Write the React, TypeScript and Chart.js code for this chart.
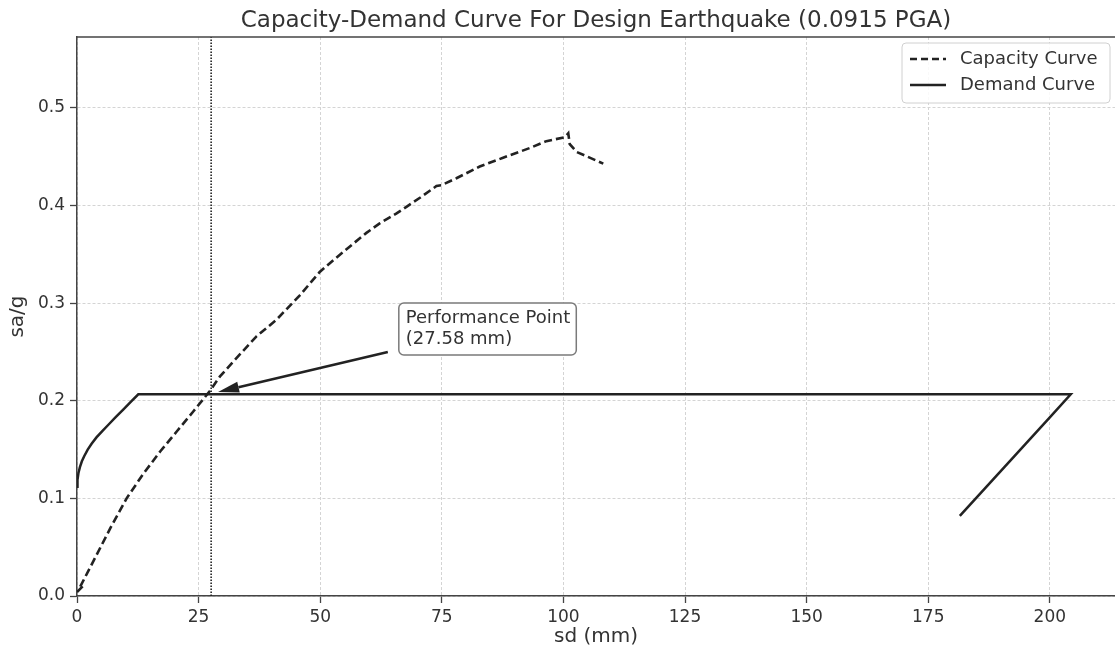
import React, { useEffect, useRef } from 'react';
import { Chart, registerables } from 'chart.js';

Chart.register(...registerables);

// ---- Text ----
const TITLE = 'Capacity-Demand Curve For Design Earthquake (0.0915 PGA)';
const X_LABEL = 'sd (mm)';
const Y_LABEL = 'sa/g';
const LEGEND_LABELS = ['Capacity Curve', 'Demand Curve'];
const ANNOT_LINES = ['Performance Point', '(27.58 mm)'];

// ---- Axes ----
const X_TICKS = [0, 25, 50, 75, 100, 125, 150, 175, 200];
const Y_TICKS = [0, 0.1, 0.2, 0.3, 0.4, 0.5];
const X_MIN = 0;
const X_MAX = 213.4;
const Y_MIN = 0;
const Y_MAX = 0.5727;

// ---- Capacity curve ----
const capacitySd = [0.0, 1.2, 0.6, 3.4, 6.8, 10.2, 13.6, 17.1, 20.5, 23.9, 27.3, 29.4, 32.1, 36.9, 41.0, 45.8, 49.9, 52.7, 56.8, 59.5, 62.3, 65.7, 67.8, 70.5, 73.9, 75.0, 78.0, 82.8, 87.6, 93.1, 96.5, 100.3, 101.0, 101.3, 102.7, 108.2];
const capacitySa = [0.004, 0.010, 0.009, 0.036, 0.069, 0.100, 0.125, 0.148, 0.1685, 0.189, 0.210, 0.225, 0.240, 0.266, 0.283, 0.308, 0.332, 0.344, 0.361, 0.372, 0.382, 0.392, 0.399, 0.408, 0.420, 0.421, 0.428, 0.440, 0.449, 0.459, 0.466, 0.470, 0.474, 0.463, 0.455, 0.443];

// ---- Demand curve ----
const demandSd = [0.0, 0.1, 0.3, 0.6, 1.0, 1.5, 2.2, 3.0, 4.0, 5.2, 6.5, 8.0, 9.5, 11.0, 12.6, 204.3, 200.0, 193.1, 186.9, 181.5];
const demandSa = [0.112, 0.119, 0.126, 0.132, 0.138, 0.1435, 0.150, 0.156, 0.1625, 0.169, 0.1757, 0.1834, 0.191, 0.1986, 0.2066, 0.2066, 0.183, 0.1454, 0.1116, 0.082];

// ---- Performance point ----
const PERFORMANCE_SD = 27.58;
const ANNOT_TEXT_AT = { x: 67.6, y: 0.2797 };
const ARROW_TAIL = { x: 63.9, y: 0.25 };
const ARROW_TIP = { x: 29.0, y: 0.209 };

const FONT = '"DejaVu Sans", "Liberation Sans", sans-serif';
const TEXT = '#333333';
const LINE = '#222222';
const SPINE = '#444444';
const GRID = '#d4d4d4';

const overlayPlugin = {
  id: 'overlay',
  afterDraw(chart: any) {
    const { ctx, chartArea: a, scales } = chart;
    const x = scales.x;
    const y = scales.y;
    ctx.save();

    // top spine
    ctx.strokeStyle = SPINE;
    ctx.lineWidth = 1.5;
    ctx.setLineDash([]);
    ctx.beginPath();
    ctx.moveTo(a.left, a.top);
    ctx.lineTo(a.right, a.top);
    ctx.stroke();

    // title
    ctx.fillStyle = TEXT;
    ctx.font = `23px ${FONT}`;
    ctx.textAlign = 'center';
    ctx.textBaseline = 'alphabetic';
    ctx.fillText(TITLE, (a.left + a.right) / 2, 27);

    // arrow
    const tx = x.getPixelForValue(ARROW_TAIL.x);
    const ty = y.getPixelForValue(ARROW_TAIL.y);
    const hx = x.getPixelForValue(ARROW_TIP.x);
    const hy = y.getPixelForValue(ARROW_TIP.y);
    const ang = Math.atan2(hy - ty, hx - tx);
    const headLen = 21;
    const headHalf = 5.5;
    const bx = hx - headLen * Math.cos(ang);
    const by = hy - headLen * Math.sin(ang);
    ctx.strokeStyle = LINE;
    ctx.fillStyle = LINE;
    ctx.lineWidth = 2.6;
    ctx.beginPath();
    ctx.moveTo(tx, ty);
    ctx.lineTo(bx, by);
    ctx.stroke();
    ctx.beginPath();
    ctx.moveTo(hx, hy);
    ctx.lineTo(bx + headHalf * Math.sin(ang), by - headHalf * Math.cos(ang));
    ctx.lineTo(bx - headHalf * Math.sin(ang), by + headHalf * Math.cos(ang));
    ctx.closePath();
    ctx.fill();

    // annotation box
    ctx.font = `18px ${FONT}`;
    const ax = x.getPixelForValue(ANNOT_TEXT_AT.x);
    const ay = y.getPixelForValue(ANNOT_TEXT_AT.y);
    const lh = 21;
    const w = Math.max(...ANNOT_LINES.map((t) => ctx.measureText(t).width));
    const bxL = ax - 7;
    const byT = ay - 20;
    const bw = w + 13;
    const bh = lh * ANNOT_LINES.length + 10;
    ctx.beginPath();
    ctx.roundRect(bxL, byT, bw, bh, 5);
    ctx.fillStyle = '#ffffff';
    ctx.fill();
    ctx.strokeStyle = '#7a7a7a';
    ctx.lineWidth = 1.5;
    ctx.stroke();
    ctx.fillStyle = TEXT;
    ctx.textAlign = 'left';
    ANNOT_LINES.forEach((t, i) => ctx.fillText(t, ax, ay + i * lh));

    // legend
    const lw = 208;
    const lhgt = 60;
    const lx = a.right - 5 - lw;
    const ly = a.top + 6;
    ctx.beginPath();
    ctx.roundRect(lx, ly, lw, lhgt, 4);
    ctx.fillStyle = 'rgba(255,255,255,0.85)';
    ctx.fill();
    ctx.strokeStyle = '#d0d0d0';
    ctx.lineWidth = 1;
    ctx.stroke();
    const rows = [ly + 16, ly + 42];
    ctx.strokeStyle = LINE;
    ctx.lineWidth = 2.4;
    ctx.setLineDash([7, 4]);
    ctx.beginPath();
    ctx.moveTo(lx + 8, rows[0]);
    ctx.lineTo(lx + 44, rows[0]);
    ctx.stroke();
    ctx.setLineDash([]);
    ctx.beginPath();
    ctx.moveTo(lx + 8, rows[1]);
    ctx.lineTo(lx + 44, rows[1]);
    ctx.stroke();
    ctx.fillStyle = TEXT;
    ctx.font = `18px ${FONT}`;
    ctx.textBaseline = 'middle';
    LEGEND_LABELS.forEach((t, i) => ctx.fillText(t, lx + 58, rows[i]));

    ctx.restore();
  },
};

export default function App() {
  const ref = useRef<HTMLCanvasElement | null>(null);

  useEffect(() => {
    if (!ref.current) return;
    const toPts = (xs: number[], ys: number[]) => xs.map((v, i) => ({ x: v, y: ys[i] }));
    const chart = new Chart(ref.current, {
      type: 'line',
      data: {
        datasets: [
          {
            label: LEGEND_LABELS[0],
            data: toPts(capacitySd, capacitySa),
            borderColor: LINE,
            borderWidth: 2.6,
            borderDash: [8, 4],
            pointRadius: 0,
            fill: false,
            tension: 0,
          },
          {
            label: LEGEND_LABELS[1],
            data: toPts(demandSd, demandSa),
            borderColor: LINE,
            borderWidth: 2.5,
            pointRadius: 0,
            fill: false,
            tension: 0,
          },
          {
            label: 'Performance Point',
            data: toPts([PERFORMANCE_SD, PERFORMANCE_SD], [Y_MIN, Y_MAX]),
            borderColor: LINE,
            borderWidth: 1.6,
            borderDash: [1.5, 1.5],
            pointRadius: 0,
            fill: false,
          },
        ],
      },
      options: {
        animation: false,
        responsive: false,
        parsing: false as any,
        layout: { padding: { top: 37, left: 0, right: 0, bottom: 0 } },
        plugins: {
          legend: { display: false },
          title: { display: false },
          tooltip: { enabled: false },
        },
        scales: {
          x: {
            type: 'linear',
            min: X_MIN,
            max: X_MAX,
            afterBuildTicks: (s: any) => {
              s.ticks = X_TICKS.map((v) => ({ value: v }));
            },
            afterFit: (s: any) => {
              s.height = 57;
            },
            grid: {
              color: GRID,
              lineWidth: 1,
              tickLength: 7,
              tickColor: SPINE,
              tickWidth: 1.3,
              tickBorderDash: [],
            } as any,
            border: { color: SPINE, width: 1.5, dash: [3, 2] },
            ticks: {
              color: TEXT,
              padding: 4,
              maxRotation: 0,
              font: { family: FONT, size: 17 },
              callback: (v: any) => String(v),
            },
            title: {
              display: true,
              text: X_LABEL,
              color: TEXT,
              font: { family: FONT, size: 20 },
              padding: { top: 0, bottom: 4 },
            },
          },
          y: {
            type: 'linear',
            min: Y_MIN,
            max: Y_MAX,
            afterBuildTicks: (s: any) => {
              s.ticks = Y_TICKS.map((v) => ({ value: v }));
            },
            afterFit: (s: any) => {
              s.width = 77;
            },
            grid: {
              color: GRID,
              lineWidth: 1,
              tickLength: 7,
              tickColor: SPINE,
              tickWidth: 1.3,
              tickBorderDash: [],
            } as any,
            border: { color: SPINE, width: 1.5, dash: [3, 2] },
            ticks: {
              color: TEXT,
              padding: 5,
              font: { family: FONT, size: 17 },
              callback: (v: any) => Number(v).toFixed(1),
            },
            title: {
              display: true,
              text: Y_LABEL,
              color: TEXT,
              font: { family: FONT, size: 20 },
              padding: { top: 6, bottom: 0 },
            },
          },
        },
      },
      plugins: [overlayPlugin],
    });
    return () => chart.destroy();
  }, []);

  return (
    <div style={{ position: 'absolute', left: 0, top: 0, width: 1115, height: 653, background: '#fff' }}>
      <canvas ref={ref} width={1115} height={653} style={{ display: 'block' }} />
    </div>
  );
}
